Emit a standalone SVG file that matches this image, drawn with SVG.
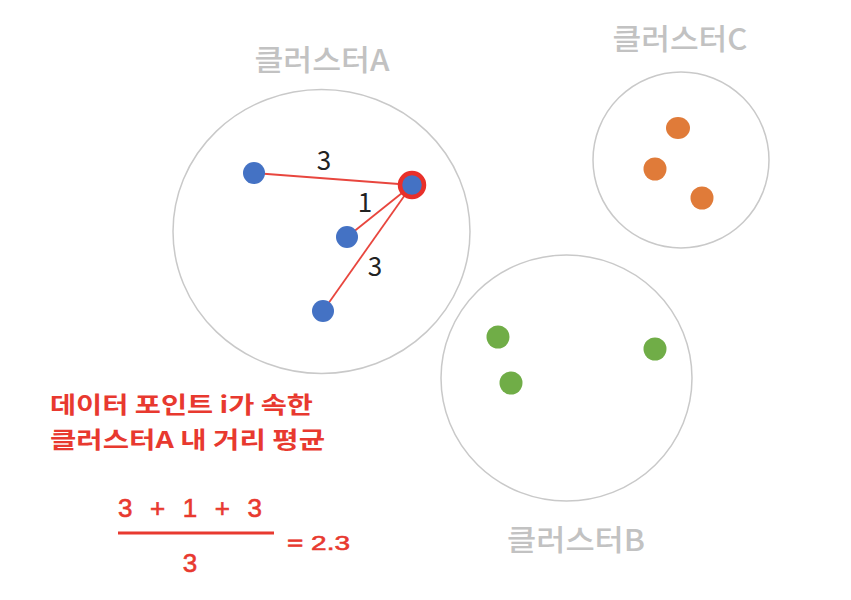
<svg xmlns="http://www.w3.org/2000/svg" width="851" height="600" viewBox="0 0 851 600">
<style>
.cl{fill:none;stroke:#c9c9c9;stroke-width:1.5}
.lbl{font-family:"Noto Sans CJK KR","Noto Sans",sans-serif;font-size:29px;font-weight:500;fill:#c2c2c2;text-anchor:middle}
.blue{fill:#4472c4}
.orange{fill:#e07b39}
.green{fill:#70ad47}
.edge{stroke:#e8463e;stroke-width:1.8;fill:none}
.num{font-family:"Noto Sans CJK KR","Noto Sans",sans-serif;font-size:26px;fill:#222;text-anchor:middle}
.red{font-family:"Noto Sans CJK KR","Noto Sans",sans-serif;font-weight:bold;fill:#e8392f}
.fm{font-family:"Liberation Sans",Arial,sans-serif;fill:#e8392f;stroke:#e8392f;stroke-width:0.6}
</style>
<rect width="851" height="600" fill="#fff"/>
<g id="clusterA">
<ellipse class="cl" cx="321.5" cy="231.5" rx="148.5" ry="142"/>
<text class="lbl" x="322" y="71" textLength="135" lengthAdjust="spacingAndGlyphs">클러스터A</text>
</g>
<g id="clusterB">
<ellipse class="cl" cx="566.5" cy="378" rx="125.5" ry="123"/>
<text class="lbl" x="576" y="551" textLength="138" lengthAdjust="spacingAndGlyphs">클러스터B</text>
</g>
<g id="clusterC">
<circle class="cl" cx="681" cy="160" r="88"/>
<text class="lbl" x="680" y="50" textLength="135" lengthAdjust="spacingAndGlyphs">클러스터C</text>
</g>
<g id="connectors">
<line class="edge" x1="412" y1="185" x2="254" y2="173"/>
<line class="edge" x1="412" y1="185" x2="347" y2="237"/>
<line class="edge" x1="412" y1="185" x2="323" y2="311"/>
<text class="num" x="324" y="170">3</text>
<text class="num" x="365" y="212">1</text>
<text class="num" x="375" y="276">3</text>
</g>
<g id="pointsA">
<circle class="blue" cx="254" cy="173" r="11"/>
<circle class="blue" cx="347" cy="237" r="11"/>
<circle class="blue" cx="323" cy="311" r="11"/>
</g>
<g id="pointI">
<circle cx="412" cy="185" r="12" fill="#4472c4" stroke="#e8302a" stroke-width="4.5"/>
</g>
<g id="pointsB">
<circle class="green" cx="498" cy="337" r="11.5"/>
<circle class="green" cx="511" cy="383" r="11.5"/>
<circle class="green" cx="655" cy="349" r="11.5"/>
</g>
<g id="pointsC">
<ellipse class="orange" cx="678" cy="128" rx="12" ry="11"/>
<ellipse class="orange" cx="655" cy="169" rx="11.5" ry="11.5"/>
<ellipse class="orange" cx="702" cy="198" rx="11.5" ry="11.5"/>
</g>
<g id="caption">
<text class="red" x="50" y="413" font-size="23" textLength="263" lengthAdjust="spacingAndGlyphs">데이터 포인트 i가 속한</text>
<text class="red" x="50" y="448" font-size="23" textLength="275" lengthAdjust="spacingAndGlyphs">클러스터A 내 거리 평균</text>
</g>
<g id="formula">
<text class="fm" x="118" y="517" font-size="26" textLength="144" lengthAdjust="spacing">3 + 1 + 3</text>
<line x1="118" y1="533" x2="274" y2="533" stroke="#e8392f" stroke-width="3"/>
<text class="fm" x="190" y="572" font-size="26" text-anchor="middle">3</text>
<text class="fm" x="287" y="550" font-size="21" textLength="63" lengthAdjust="spacingAndGlyphs">= 2.3</text>
</g>
</svg>
